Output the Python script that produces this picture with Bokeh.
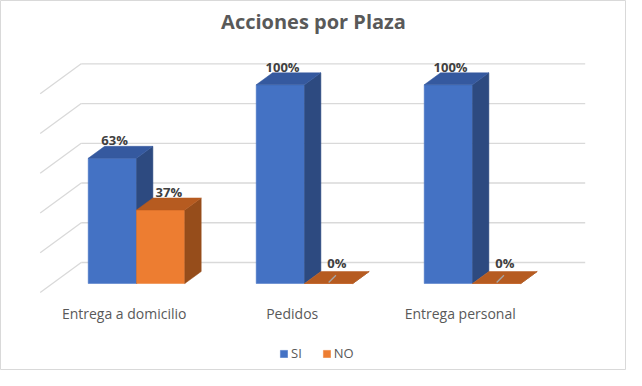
from bokeh.plotting import figure
from bokeh.models import Range1d, Legend, LegendItem
from bokeh.core.properties import value
from bokeh.embed import file_html
from bokeh.resources import INLINE

# ---- data ----
categories = ["Entrega a domicilio", "Pedidos", "Entrega personal"]
series_names = ["SI", "NO"]
si_values = [63, 100, 100]
no_values = [37, 0, 0]
grid_ticks = [0, 20, 40, 60, 80, 100]
title_text = "Acciones por Plaza"

# ---- style / geometry ----
W, H = 626, 370
PX_X = 168.0          # pixels per category unit
PX_Y = 1.987          # pixels per percent
X0_PAGE, Y0_PAGE = 131.7, 300.0   # page position of (x=0, y=0) at depth 0
DX = 41.0 / PX_X      # depth offset (category units) for full floor depth
DY = 30.0 / PX_Y      # depth offset (percent units) for full floor depth
D0, D1 = 0.3, 0.7     # bar depth span
BW = 0.2875           # bar width (category units)
front_colors = ["#4472C4", "#ED7D31"]
top_colors = ["#35599F", "#B65B20"]
side_colors = ["#2D4A80", "#964D1B"]
grid_color = "#D9D9D9"
text_gray = "#595959"
label_gray = "#404040"

xs = -(X0_PAGE - 8) / PX_X
ye = (Y0_PAGE - 8) / PX_Y
p = figure(width=W, height=H, output_backend="svg", toolbar_location=None,
           x_range=Range1d(xs, xs + W / PX_X), y_range=Range1d(ye - H / PX_Y, ye),
           x_axis_location=None, y_axis_location=None,
           min_border=0, min_border_left=0, min_border_right=0,
           min_border_top=0, min_border_bottom=0)
p.grid.visible = False
p.outline_line_color = grid_color
p.outline_line_width = 1
p.background_fill_color = "white"
p.border_fill_color = "white"

def proj(x, y, d):
    return x + d * DX, y + d * DY

def page_y(py):
    return (Y0_PAGE - py) / PX_Y

def page_x(px):
    return (px - X0_PAGE) / PX_X

n = len(categories)
floor_l, floor_r = -0.5, n - 0.5

# gridlines: back wall + left side wall
for t in grid_ticks:
    bx0, by0 = proj(floor_l, t, 1.0)
    bx1, by1 = proj(floor_r, t, 1.0)
    p.line([bx0, bx1], [by0, by1], line_color=grid_color, line_width=1.3)
    sx0, sy0 = proj(floor_l, t, 0.0)
    p.line([sx0, bx0], [sy0, by0], line_color=grid_color, line_width=1.3)

# bars
series_vals = [si_values, no_values]
legend_renderers = []
for s, vals in enumerate(series_vals):
    lefts = [i - BW + s * BW for i in range(n)]
    fl = [proj(l, 0, D0)[0] for l in lefts]
    fr = [f + BW for f in fl]
    fb = [proj(0, 0, D0)[1]] * n
    ft = [proj(0, v, D0)[1] for v in vals]
    r = p.quad(left=fl, right=fr, bottom=fb, top=ft,
               fill_color=front_colors[s], line_color=front_colors[s], line_width=0.5)
    legend_renderers.append(r)
    tops_x, tops_y, sides_x, sides_y = [], [], [], []
    for l, v in zip(lefts, vals):
        a = proj(l, v, D0); b = proj(l + BW, v, D0)
        c = proj(l + BW, v, D1); d = proj(l, v, D1)
        tops_x.append([a[0], b[0], c[0], d[0]]); tops_y.append([a[1], b[1], c[1], d[1]])
        e = proj(l + BW, 0, D0); f = proj(l + BW, 0, D1)
        sides_x.append([e[0], b[0], c[0], f[0]]); sides_y.append([e[1], b[1], c[1], f[1]])
    p.patches(sides_x, sides_y, fill_color=side_colors[s], line_color=side_colors[s], line_width=0.5)
    p.patches(tops_x, tops_y, fill_color=top_colors[s], line_color=top_colors[s], line_width=0.5)

# data labels
for s, vals in enumerate(series_vals):
    lx, ly, lt = [], [], []
    for i, v in enumerate(vals):
        l = i - BW + s * BW
        cx = l + BW / 2 + (D0 + D1) / 2 * DX
        if s == 0:
            cx -= 6 / PX_X
        lx.append(cx)
        ly.append(v + D1 * DY + (8.5 if v == 0 else 6.0) / PX_Y)
        lt.append(f"{v}%")
        if v == 0:
            fx = l + BW / 2 + D0 * DX
            fy = v + D0 * DY + 0.5
            p.line([fx, fx + 7.3 / PX_X], [fy, fy + 7.3 / PX_Y],
                   line_color="#A6A6A6", line_width=1.3)
    p.text(x=lx, y=ly, text=lt, text_align="center", text_baseline="middle",
           text_font=value("Open Sans"), text_font_style="bold",
           text_font_size="13px", text_color=label_gray)

# category labels
p.text(x=list(range(n)), y=[page_y(321)] * n, text=categories,
       text_align="center", text_baseline="middle",
       text_font=value("Open Sans"), text_font_size="14px", text_color=text_gray)

# title
p.text(x=[page_x(321)], y=[page_y(29)], text=[title_text],
       text_align="center", text_baseline="middle",
       text_font=value("Open Sans"), text_font_style="bold",
       text_font_size="20px", text_color=text_gray)

# legend
legend = Legend(items=[LegendItem(label=series_names[k], renderers=[legend_renderers[k]])
                       for k in range(2)],
                orientation="horizontal", location=(279, 8),
                glyph_width=9, glyph_height=9, label_standoff=3, spacing=20,
                label_width=1, label_height=16,
                padding=0, margin=0, border_line_alpha=0, background_fill_alpha=0,
                label_text_font="Open Sans", label_text_font_size="13px",
                label_text_color=text_gray)
p.add_layout(legend)

open("out.html", "w").write(file_html(p, INLINE))
